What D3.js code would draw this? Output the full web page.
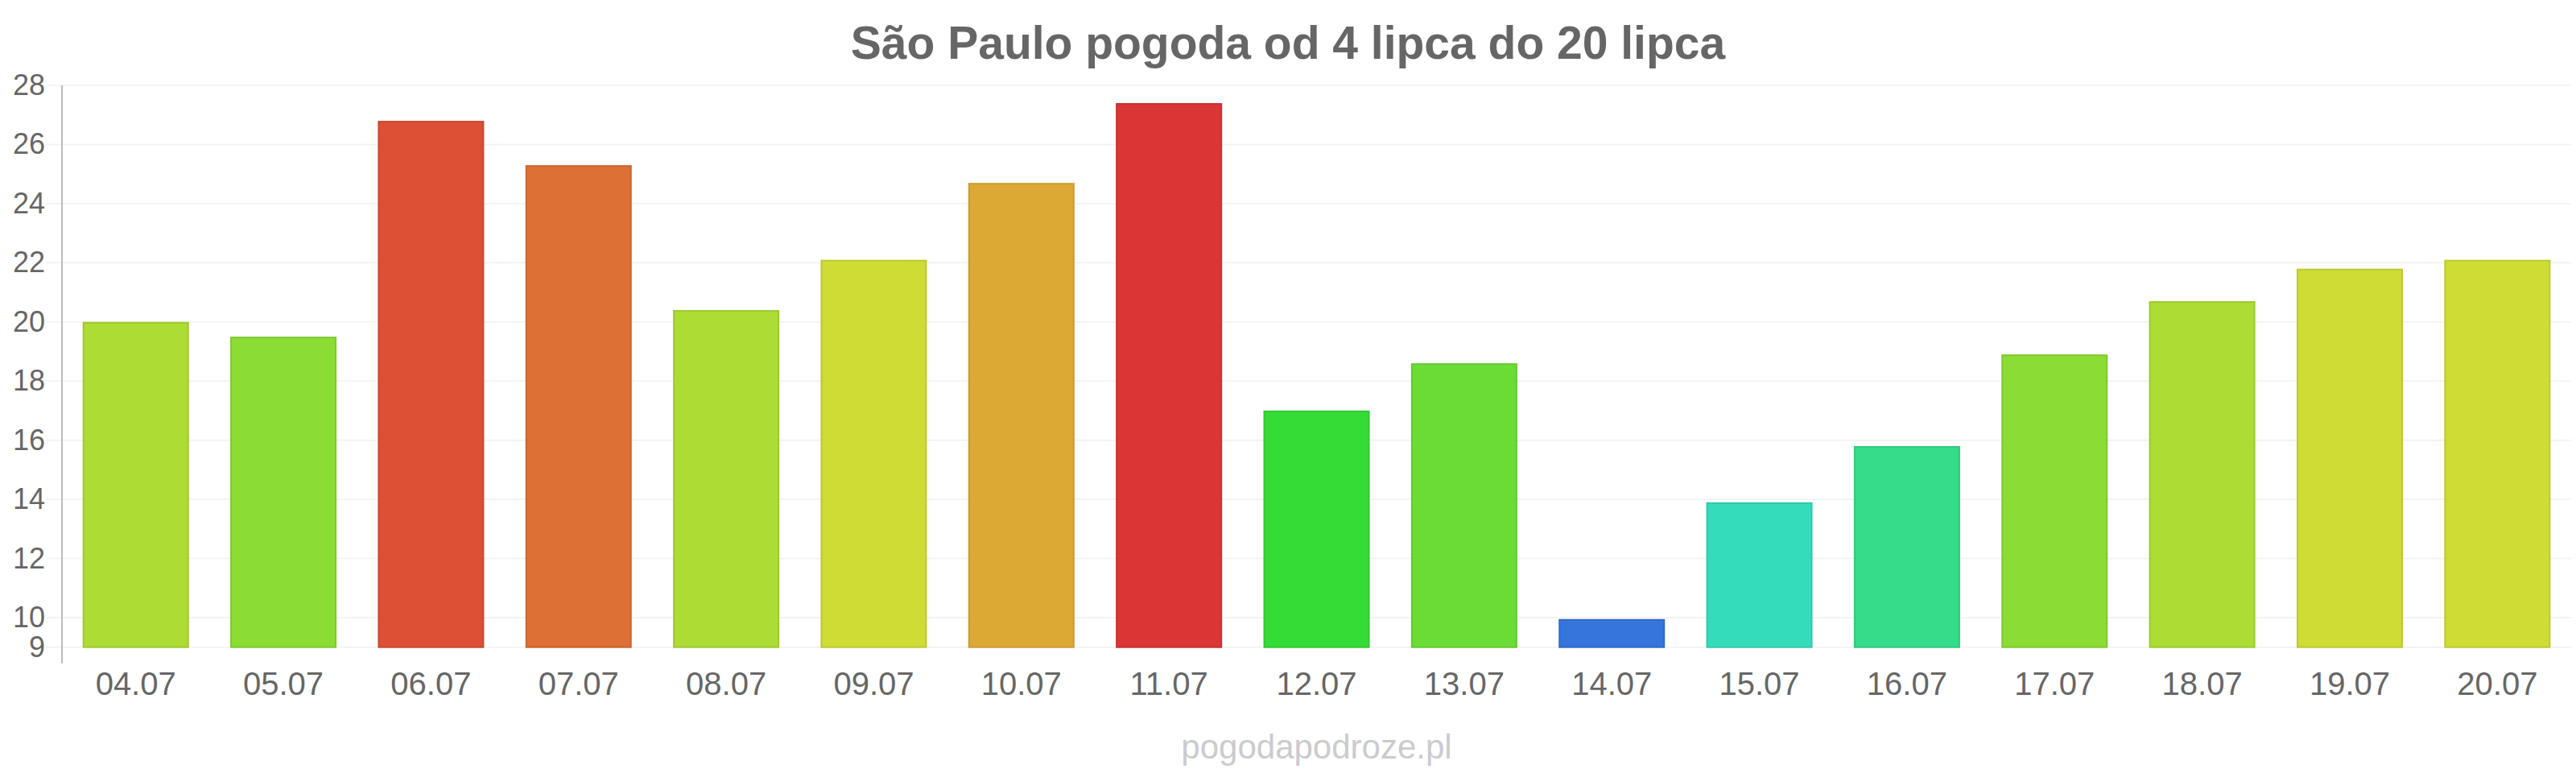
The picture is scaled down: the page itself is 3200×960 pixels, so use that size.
<html>
    <head>
        <meta charset="utf-8">
        <title>São Paulo pogoda</title>
        <script type="text/javascript" src="https://cdn.jsdelivr.net/npm/d3@7"></script>
        <style>
            body { margin: 0; background: #fff; }
            text { font-family: "Liberation Sans", Arial, sans-serif; }
        </style>
    </head>
    <body>
        <script type="text/javascript">
            // data
            let days = ["04.07","05.07","06.07","07.07","08.07","09.07","10.07","11.07","12.07",
                        "13.07","14.07","15.07","16.07","17.07","18.07","19.07","20.07"]
            let temps = [20.0,19.5,26.8,25.3,20.4,22.1,24.7,27.4,17.0,18.6,9.95,13.9,15.8,18.9,20.7,21.8,22.1]
            let colors = ["#addc34","#8bdc34","#dd5035","#dd7035","#addc34","#cfdc35","#dda935","#dc3535","#35dc35",
                          "#6bdc35","#3575dc","#35dcbb","#35dc89","#8bdc35","#addc35","#cfdc35","#cfdc35"]
            let yTicks = [9,10,12,14,16,18,20,22,24,26,28]
            let title = "São Paulo pogoda od 4 lipca do 20 lipca"
            let credit = "pogodapodroze.pl"

            // set up svg
            let w = 3200
            let h = 960
            let plotLeft = 77
            let plotRight = 3194
            let plotTop = 106
            let plotBottom = 803.7
            let svg = d3.select("body")
                        .append("svg")
                        .attr("width",w)
                        .attr("height",h)

            // scales
            let xScale = d3.scaleBand()
                            .domain(days)
                            .range([plotLeft,plotRight])
                            .paddingInner(0.28)
                            .paddingOuter(0.14)
            let yScale = d3.scaleLinear()
                            .domain([9,28])
                            .range([plotBottom,plotTop])

            // title
            svg.append("text")
                .attr("x",1600)
                .attr("y",73)
                .attr("text-anchor","middle")
                .attr("font-size",57)
                .attr("font-weight","bold")
                .attr("fill","#666")
                .text(title)

            // gridlines
            svg.selectAll("line.grid")
                .data(yTicks)
                .enter()
                .append("line")
                .attr("class","grid")
                .attr("x1",plotLeft-20)
                .attr("x2",plotRight)
                .attr("y1",d=>yScale(d))
                .attr("y2",d=>yScale(d))
                .attr("stroke","#f3f3f3")
                .attr("stroke-width",2)

            // y axis labels
            let yAxis = d3.axisLeft(yScale)
                            .tickValues(yTicks)
                            .tickSize(0)
                            .tickPadding(21)
            let yg = svg.append("g")
                .attr("transform","translate("+plotLeft+",0)")
                .call(yAxis)
            yg.select(".domain").remove()
            yg.selectAll("text")
                .attr("font-size",36)
                .attr("font-family","Liberation Sans, Arial, sans-serif")
                .attr("fill","#666")

            // axis line
            svg.append("line")
                .attr("x1",plotLeft)
                .attr("x2",plotLeft)
                .attr("y1",plotTop)
                .attr("y2",plotBottom+20)
                .attr("stroke","#bbb")
                .attr("stroke-width",2)

            // bars
            svg.selectAll("rect.bar")
                .data(temps)
                .enter()
                .append("rect")
                .attr("class","bar")
                .attr("x",(d,i)=>xScale(days[i])+1)
                .attr("width",xScale.bandwidth()-2)
                .attr("y",d=>yScale(d)+1)
                .attr("height",d=>yScale(9)-yScale(d)-1)
                .attr("fill",(d,i)=>colors[i])
                .attr("stroke",(d,i)=>d3.color(colors[i]).darker(0.25))
                .attr("stroke-width",2)

            // x axis labels
            let xAxis = d3.axisBottom(xScale)
                            .tickSize(0)
                            .tickPadding(31)
            let xg = svg.append("g")
                .attr("transform","translate(0,"+plotBottom+")")
                .call(xAxis)
            xg.select(".domain").remove()
            xg.selectAll("text")
                .attr("font-size",40)
                .attr("font-family","Liberation Sans, Arial, sans-serif")
                .attr("fill","#666")

            // watermark
            svg.append("text")
                .attr("x",(plotLeft+plotRight)/2)
                .attr("y",942)
                .attr("text-anchor","middle")
                .attr("font-size",42)
                .attr("fill","#cbcbcf")
                .text(credit)
        </script>
    </body>
</html>
